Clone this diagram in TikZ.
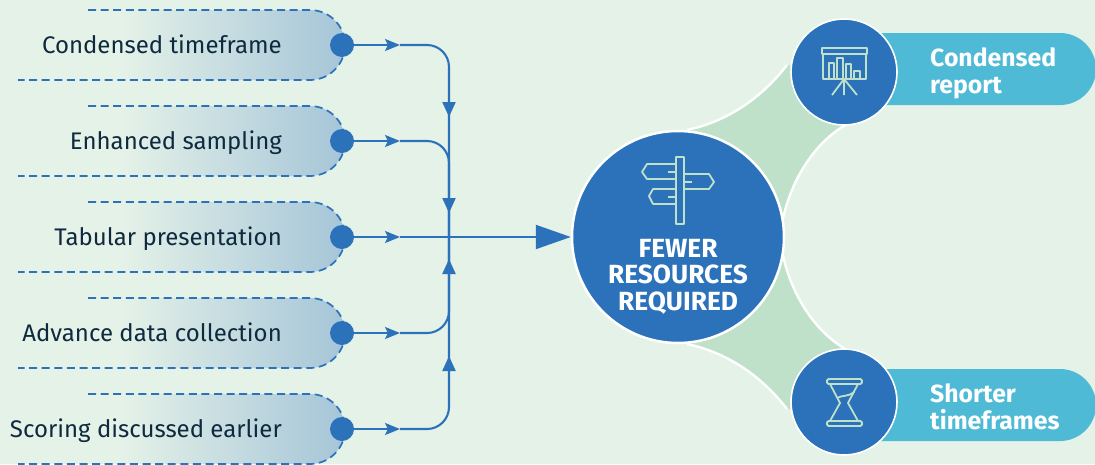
\documentclass[tikz,border=0pt]{standalone}
\usepackage{fontspec}
\setmainfont{Fira Sans}
\usetikzlibrary{arrows.meta}
\definecolor{bgc}{HTML}{E5F2E8}
\definecolor{blu}{HTML}{2B72BB}
\definecolor{steel}{HTML}{A5C5D8}
\definecolor{ink}{HTML}{0F2A3F}
\definecolor{mint}{HTML}{BFE0C9}
\definecolor{cyan}{HTML}{4FBAD6}
\tikzset{
  flow/.style={draw=blu,line width=2.1pt},
  smalltip/.style={-{Stealth[length=15pt,width=12pt,inset=3pt]}},
  vtip/.style={-{Stealth[length=15pt,width=13pt,inset=0pt]}},
  dotn/.style={circle,fill=blu,minimum size=24pt,inner sep=0pt},
  lab/.style={anchor=base east,text=ink,inner sep=0pt,font=\fontsize{24}{26}\selectfont},
  dashline/.style={draw=blu,line width=1.7pt,dash pattern=on 8pt off 4.6pt},
  hub/.style={circle,fill=blu,draw=white,line width=2.5pt,inner sep=0pt},
  icon/.style={draw=mint,line width=1.8pt,line join=round},
  pilltxt/.style={anchor=west,align=left,text=white,inner sep=0pt,font=\fontsize{24.8}{27}\selectfont\bfseries},
}
\begin{document}
\begin{tikzpicture}[x=1pt,y=-1pt]
\useasboundingbox (0,0) rectangle (1095,464);
\fill[bgc] (0,0) rectangle (1095,464);
% left pills
\foreach \cy/\name/\txt in {45/1/Condensed timeframe,141/2/Enhanced sampling,237/3/Tabular presentation,333/4/Advance data collection,429/5/Scoring discussed earlier}{
  \shade[left color=bgc,right color=steel]
    (120,\cy-35) -- (310,\cy-35) arc[start angle=-90,end angle=90,radius=35] -- (120,\cy+35) -- cycle;
  \draw[dashline] (88,\cy-35) -- (310,\cy-35) arc[start angle=-90,end angle=90,radius=35] -- (18,\cy+35);
  \node[lab] (l\name) at (282,\cy+8.5) {\txt};
  \node[dotn] (d\name) at (342,\cy) {};
}
% hubs coordinates
\coordinate (j) at (449,237);
\coordinate (a1) at (400,45);\coordinate (a2) at (400,141);\coordinate (a3) at (400,237);\coordinate (a4) at (400,333);\coordinate (a5) at (400,429);
\coordinate (b1) at (449,102);\coordinate (b2) at (449,198);\coordinate (b4) at (449,274);\coordinate (b5) at (449,371);
\coordinate (t1) at (449,117);\coordinate (t2) at (449,213);\coordinate (t4) at (449,259);\coordinate (t5) at (449,356);
% green connectors
\fill[mint] (687,130) .. controls (725,122) and (760,100) .. (787,65) -- (844,72) -- (847,124) .. controls (810,145) and (785,190) .. (780,237) .. controls (785,284) and (810,329) .. (847,350) -- (844,402) -- (787,409) .. controls (760,374) and (725,352) .. (687,344) -- (678,237) -- cycle;
\draw[white,line width=2.4pt] (687,130) .. controls (725,122) and (760,100) .. (787,65);
\draw[white,line width=2.4pt] (847,124) .. controls (810,145) and (785,190) .. (780,237) .. controls (785,284) and (810,329) .. (847,350);
\draw[white,line width=2.4pt] (687,344) .. controls (725,352) and (760,374) .. (787,409);
% pills right
\fill[cyan] (860,33) -- (1060,33) arc[start angle=-90,end angle=90,radius=36] -- (860,105) -- cycle;
\fill[cyan] (860,369) -- (1060,369) arc[start angle=-90,end angle=90,radius=36] -- (860,441) -- cycle;
% hubs
\node[hub,minimum size=212pt] (big) at (678,237) {};
\node[hub,minimum size=106pt,line width=1.6pt] (top) at (844,72) {};
\node[hub,minimum size=106pt,line width=1.6pt] (bot) at (844,402) {};
% connectors
\draw[flow,smalltip] (d1) -- (a1);
\draw[flow,smalltip] (d2) -- (a2);
\draw[flow,smalltip] (d3) -- (a3);
\draw[flow,smalltip] (d4) -- (a4);
\draw[flow,smalltip] (d5) -- (a5);
\draw[flow,rounded corners=22pt] (a1) -| (j);
\draw[flow,rounded corners=22pt] (a2) -| (j);
\draw[flow,rounded corners=22pt] (a4) -| (j);
\draw[flow,rounded corners=22pt] (a5) -| (j);
\draw[flow,-{Stealth[length=35pt,width=24pt,inset=0pt]}] (a3) -- (big);
\draw[flow,vtip] (b1) -- (t1);
\draw[flow,vtip] (b2) -- (t2);
\draw[flow,vtip] (b4) -- (t4);
\draw[flow,vtip] (b5) -- (t5);
% big text
\node[align=center,text=white,inner sep=0pt,font=\fontsize{26.3}{26.5}\selectfont\bfseries] (bigt) at (678,276.5) {FEWER\\RESOURCES\\REQUIRED};
\node[pilltxt] (r1) at (930,73) {Condensed\\report};
\node[pilltxt] (r2) at (930,406.5) {Shorter\\timeframes};
% signpost icon
\draw[icon] (676,157) rectangle (684,224);
\draw[icon] (676,164) -- (647,164) -- (642,172) -- (647,179) -- (676,179);
\draw[icon] (684,174) -- (709,174) -- (714,182) -- (709,189) -- (684,189);
\draw[icon] (676,189) -- (653,189) -- (649,196) -- (653,204) -- (676,204);
\draw[icon] (668,172) -- (676,172) (684,182) -- (692,182) (668,197) -- (676,197);
% chart icon
\draw[icon] (822,48) rectangle (867,54);
\draw[icon] (823,54) rectangle (866,79);
\draw[icon] (829,63) rectangle (834,79) (837,58) rectangle (843,79) (846,64) rectangle (851,79) (854,71) rectangle (860,79);
\draw[icon] (844,79) -- (832,95) (844,79) -- (844,95) (844,79) -- (857,95);
% hourglass icon
\draw[icon,rounded corners=1.5pt] (827,379) rectangle (862,384);
\draw[icon,rounded corners=1.5pt] (827,421) rectangle (862,426);
\draw[icon] (830,384) -- (840,403) -- (830,421) (858,384) -- (848,403) -- (858,421);
\draw[icon] (837,398) .. controls (842,395) and (848,397) .. (854,392);
\end{tikzpicture}
\end{document}
